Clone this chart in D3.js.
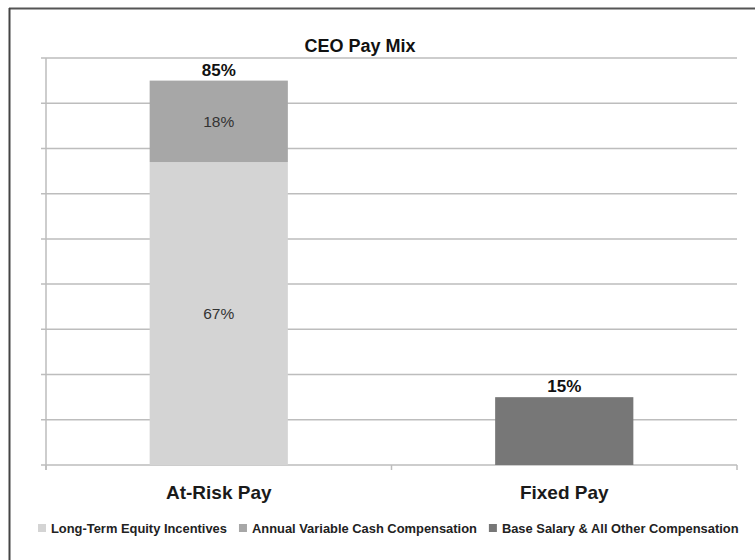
<!DOCTYPE html>
<html>
<head>
<meta charset="utf-8">
<script src="https://cdn.jsdelivr.net/npm/d3@7"></script>
<style>
  body { margin: 0; background: #fff; }
  svg { font-family: "Liberation Sans", Arial, sans-serif; }
</style>
</head>
<body>
<div id="chart"></div>
<script>
// chart data
const categories = ['At-Risk Pay', 'Fixed Pay'];
const seriesNames = ['Long-Term Equity Incentives', 'Annual Variable Cash Compensation', 'Base Salary & All Other Compensation'];
const equity = [67, 0];
const variableCash = [18, 0];
const baseSalary = [0, 15];
const totals = [85, 15];
const yTicks = [0, 10, 20, 30, 40, 50, 60, 70, 80, 90];

const colors = ['#d4d4d4', '#a7a7a7', '#777777'];

const width = 755;
const height = 560;
const margin = { top: 58, right: 18, bottom: 95, left: 46 };

const svg = d3.select('#chart').append('svg')
  .attr('width', width)
  .attr('height', height);

// frame lines (top and left only visible)
svg.append('line').attr('x1', 9).attr('x2', width).attr('y1', 8.5).attr('y2', 8.5)
  .attr('stroke', '#555').attr('stroke-width', 2);
svg.append('line').attr('x1', 9.5).attr('x2', 9.5).attr('y1', 8).attr('y2', height)
  .attr('stroke', '#444').attr('stroke-width', 2);

const x = d3.scaleBand()
  .domain(categories)
  .range([margin.left, width - margin.right])
  .paddingInner(0.6)
  .paddingOuter(0.3);

const y = d3.scaleLinear()
  .domain([0, 90])
  .range([height - margin.bottom, margin.top]);

// gridlines
svg.append('g')
  .selectAll('line')
  .data(yTicks)
  .enter().append('line')
  .attr('x1', margin.left - 5)
  .attr('x2', width - margin.right)
  .attr('y1', d => y(d))
  .attr('y2', d => y(d))
  .attr('stroke', '#bdbdbd')
  .attr('stroke-width', 1.5);

// y axis line
svg.append('line')
  .attr('x1', margin.left).attr('x2', margin.left)
  .attr('y1', y(90)).attr('y2', y(0) + 5)
  .attr('stroke', '#bdbdbd').attr('stroke-width', 1.5);

// category ticks on x axis
const bandEdges = [margin.left, (margin.left + width - margin.right) / 2, width - margin.right];
svg.append('g')
  .selectAll('line')
  .data(bandEdges)
  .enter().append('line')
  .attr('x1', d => d).attr('x2', d => d)
  .attr('y1', y(0)).attr('y2', y(0) + 5)
  .attr('stroke', '#bdbdbd').attr('stroke-width', 1.5);

// stacked bars
const rows = categories.map((c, i) => ({
  cat: c,
  [seriesNames[0]]: equity[i],
  [seriesNames[1]]: variableCash[i],
  [seriesNames[2]]: baseSalary[i]
}));
const stack = d3.stack().keys(seriesNames)(rows);

const layers = svg.selectAll('.layer')
  .data(stack)
  .enter().append('g')
  .attr('class', 'layer')
  .attr('fill', (d, i) => colors[i]);

layers.selectAll('rect')
  .data(d => d)
  .enter().append('rect')
  .attr('x', d => x(d.data.cat))
  .attr('width', x.bandwidth())
  .attr('y', d => y(d[1]))
  .attr('height', d => y(d[0]) - y(d[1]));

// segment labels inside At-Risk bar
const inner = [
  { cat: categories[0], lo: 0, hi: equity[0] },
  { cat: categories[0], lo: equity[0], hi: equity[0] + variableCash[0] }
];
svg.selectAll('.seglabel')
  .data(inner)
  .enter().append('text')
  .attr('class', 'seglabel')
  .attr('x', d => x(d.cat) + x.bandwidth() / 2)
  .attr('y', d => y((d.lo + d.hi) / 2))
  .attr('dy', '0.35em')
  .attr('text-anchor', 'middle')
  .style('font-size', '15.5px')
  .style('fill', '#333')
  .text(d => (d.hi - d.lo) + '%');

// totals
svg.selectAll('.total')
  .data(categories)
  .enter().append('text')
  .attr('class', 'total')
  .attr('x', d => x(d) + x.bandwidth() / 2)
  .attr('y', (d, i) => y(totals[i]) - 5)
  .attr('text-anchor', 'middle')
  .style('font-size', '17px')
  .style('font-weight', 'bold')
  .style('fill', '#111')
  .text((d, i) => totals[i] + '%');

// category labels
svg.selectAll('.cat')
  .data(categories)
  .enter().append('text')
  .attr('class', 'cat')
  .attr('x', d => x(d) + x.bandwidth() / 2)
  .attr('y', y(0) + 34)
  .attr('text-anchor', 'middle')
  .style('font-size', '19px')
  .style('font-weight', 'bold')
  .style('fill', '#1a1a1a')
  .text(d => d);

// title
svg.append('text')
  .attr('x', 360)
  .attr('y', 52)
  .attr('text-anchor', 'middle')
  .style('font-size', '18px')
  .style('font-weight', 'bold')
  .style('fill', '#111')
  .text('CEO Pay Mix');

// legend
const legend = svg.append('g').attr('transform', 'translate(38, 528)');
let lx = 0;
seriesNames.forEach((name, i) => {
  const g = legend.append('g').attr('transform', `translate(${lx}, 0)`);
  g.append('rect')
    .attr('x', 0).attr('y', -4)
    .attr('width', 8).attr('height', 8)
    .attr('fill', colors[i]);
  const t = g.append('text')
    .attr('x', 13)
    .attr('dy', '0.35em')
    .style('font-size', '12.9px')
    .style('font-weight', 'bold')
    .style('fill', '#222')
    .text(name);
  lx += 13 + t.node().getComputedTextLength() + 12;
});
</script>
</body>
</html>
